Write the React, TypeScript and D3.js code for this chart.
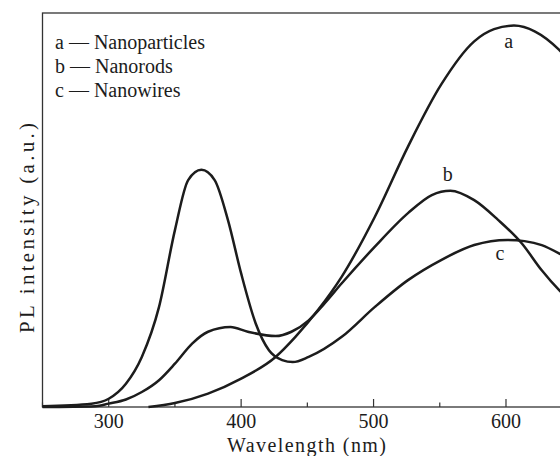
import React, { useRef, useEffect } from "react";
import * as d3 from "d3";

const WIDTH = 560;
const HEIGHT = 456;

// wavelength (nm) / PL intensity (a.u., 0-100 of the frame height)
const nanoparticlesNm = [330, 350, 375, 400, 426, 441, 458, 476, 501, 526, 551, 576, 591, 606, 622, 640, 650];
const nanoparticlesVal = [0, 1.0, 3.4, 7.2, 12.7, 17.8, 24.6, 33.1, 48.3, 66.1, 81.8, 92.8, 95.9, 96.8, 95.3, 90.7, 87];

const nanorodsNm = [250, 290, 300, 313, 325, 338, 350, 363, 375, 392, 405, 426, 438, 451, 463, 476, 501, 526, 544, 558, 576, 594, 612, 627, 640, 650];
const nanorodsVal = [0, 0.2, 0.85, 1.9, 3.8, 6.8, 11.0, 16.1, 19.1, 20.3, 19.1, 18.0, 19.1, 22.0, 26.3, 31.4, 40.7, 49.2, 53.8, 54.9, 52.5, 47.5, 41.5, 34.7, 29.7, 26.5];

const nanowiresNm = [250, 287, 300, 313, 325, 338, 350, 360, 370, 380, 390, 400, 411, 421, 431, 439, 451, 476, 501, 526, 551, 576, 601, 614, 627, 640, 650];
const nanowiresVal = [0.2, 0.85, 2.1, 5.9, 12.7, 25.4, 44.9, 57.6, 60.2, 57.6, 47.5, 33.9, 21.2, 14.4, 11.9, 11.4, 12.7, 17.8, 25.4, 32.2, 37.3, 41.1, 42.4, 42.1, 41.1, 39.0, 37];

const majorTicks = [300, 400, 500, 600];
const minorTicks = [250, 350, 450, 550, 650];

const legendLines = ["a \u2014 Nanoparticles", "b \u2014 Nanorods", "c \u2014 Nanowires"];

const curveLabels = [
  { text: "a", nm: 602, val: 91 },
  { text: "b", nm: 556, val: 57.4 },
  { text: "c", nm: 595.5, val: 37.3 },
];

const FONT = "'Liberation Serif', 'Times New Roman', serif";

function PLChart() {
  const svgRef = useRef<SVGSVGElement>(null);

  useEffect(() => {
    const svg = d3.select(svgRef.current);
    svg.selectAll("*").remove();

    const x = d3.scaleLinear().domain([250, 650]).range([42.5, 572.2]);
    const y = d3.scaleLinear().domain([0, 100]).range([407, 13]);

    const ink = "#1c1c1c";

    // frame
    svg
      .append("rect")
      .attr("x", x(250))
      .attr("y", y(100))
      .attr("width", x(650) - x(250))
      .attr("height", y(0) - y(100))
      .attr("fill", "none")
      .attr("stroke", "#333")
      .attr("stroke-width", 1.3);

    // ticks (inward)
    svg
      .selectAll(".major")
      .data(majorTicks)
      .join("line")
      .attr("x1", (d) => x(d))
      .attr("x2", (d) => x(d))
      .attr("y1", y(0))
      .attr("y2", y(0) - 8)
      .attr("stroke", "#333")
      .attr("stroke-width", 1.2);

    svg
      .selectAll(".minor")
      .data(minorTicks)
      .join("line")
      .attr("x1", (d) => x(d))
      .attr("x2", (d) => x(d))
      .attr("y1", y(0))
      .attr("y2", y(0) - 4.5)
      .attr("stroke", "#333")
      .attr("stroke-width", 1.2);

    svg
      .selectAll(".tickLabel")
      .data(majorTicks)
      .join("text")
      .attr("x", (d) => x(d))
      .attr("y", 428)
      .attr("text-anchor", "middle")
      .attr("font-family", FONT)
      .attr("font-size", 20)
      .attr("fill", ink)
      .text((d) => d);

    // axis titles
    svg
      .append("text")
      .attr("x", 306.5)
      .attr("y", 452)
      .attr("text-anchor", "middle")
      .attr("font-family", FONT)
      .attr("font-size", 20)
      .attr("textLength", 159)
      .attr("lengthAdjust", "spacing")
      .attr("fill", ink)
      .text("Wavelength (nm)");

    svg
      .append("text")
      .attr("transform", "translate(34, 228) rotate(-90)")
      .attr("text-anchor", "middle")
      .attr("font-family", FONT)
      .attr("font-size", 21)
      .attr("textLength", 210)
      .attr("lengthAdjust", "spacing")
      .attr("fill", ink)
      .text("PL intensity (a.u.)");

    // curves
    const series = [
      { nm: nanoparticlesNm, val: nanoparticlesVal },
      { nm: nanorodsNm, val: nanorodsVal },
      { nm: nanowiresNm, val: nanowiresVal },
    ];
    const line = d3
      .line<[number, number]>()
      .x((d) => x(d[0]))
      .y((d) => y(d[1]))
      .curve(d3.curveMonotoneX);

    svg
      .selectAll(".curve")
      .data(series)
      .join("path")
      .attr("class", "curve")
      .attr("fill", "none")
      .attr("stroke", ink)
      .attr("stroke-width", 2.5)
      .attr("d", (s) => line(s.nm.map((n, i) => [n, s.val[i]] as [number, number])));

    // curve letters
    svg
      .selectAll(".curveLabel")
      .data(curveLabels)
      .join("text")
      .attr("x", (d) => x(d.nm))
      .attr("y", (d) => y(d.val))
      .attr("text-anchor", "middle")
      .attr("font-family", FONT)
      .attr("font-size", 20)
      .attr("fill", ink)
      .text((d) => d.text);

    // legend
    svg
      .selectAll(".legend")
      .data(legendLines)
      .join("text")
      .attr("x", 55)
      .attr("y", (d, i) => 49 + i * 24)
      .attr("font-family", FONT)
      .attr("font-size", 20)
      .attr("fill", ink)
      .text((d) => d);
  }, []);

  return (
    <svg
      ref={svgRef}
      width={WIDTH}
      height={HEIGHT}
      style={{ position: "absolute", left: 0, top: 0, background: "#fff" }}
    />
  );
}

export default function App() {
  return <PLChart />;
}
